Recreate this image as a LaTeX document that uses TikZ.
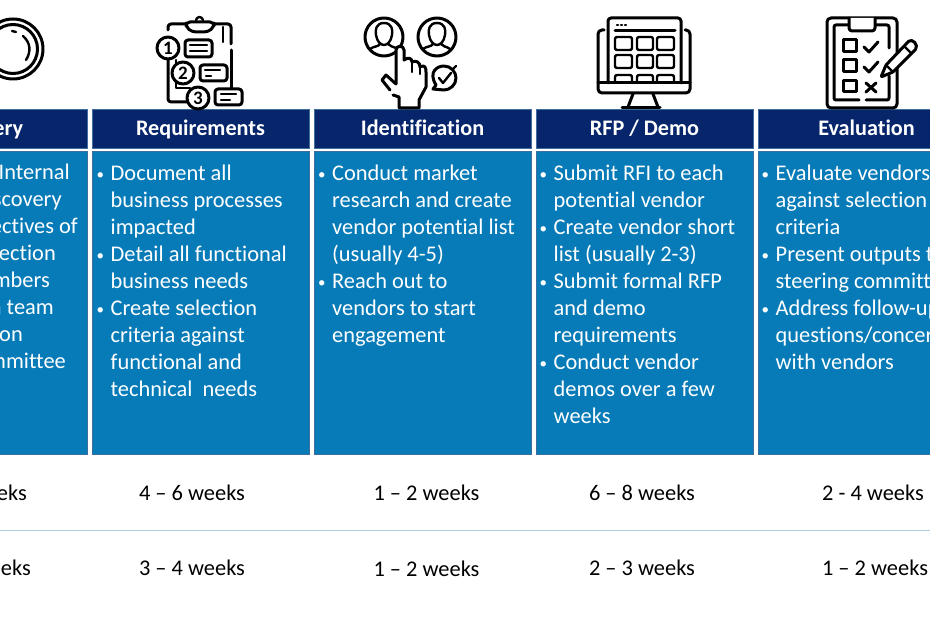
\documentclass[tikz,border=0pt]{standalone}
\usepackage{fontspec}
\setmainfont{Carlito}[Ligatures=CommonOff]
\definecolor{headblue}{HTML}{06256B}
\definecolor{bodyblue}{HTML}{077BB8}
\definecolor{edgeblue}{HTML}{3D6E9E}
\definecolor{rowline}{HTML}{ABCFDF}
\newcommand{\itm}{\llap{\raisebox{1.5pt}{\fontsize{15}{15}\selectfont\textbullet}\hspace{6.5pt}}}
\tikzset{
  headbox/.style={draw=edgeblue,fill=headblue,line width=0.8pt,minimum width=217pt,minimum height=39pt,inner sep=0pt,text height=17pt,text depth=2pt,text=white,font=\fontsize{22.2}{25}\selectfont\bfseries},
  bodybox/.style={draw=edgeblue,fill=bodyblue,line width=0.8pt,minimum width=217pt,minimum height=303pt,inner sep=0pt},
  bodytext/.style={text=white,align=left,inner sep=0pt,anchor=north west,font=\fontsize{22.4}{27}\selectfont},
  cuttext/.style={text=white,inner sep=0pt,anchor=base east,font=\fontsize{22.4}{27}\selectfont},
  timetext/.style={text=black,inner sep=0pt,font=\fontsize{22.4}{24}\selectfont},
  icon/.style={draw=black,line width=3pt,line join=round,line cap=round},
  thinicon/.style={icon,line width=2.4pt},
  digit/.style={inner sep=0pt,text=black,font=\fontsize{19}{19}\selectfont\bfseries}
}
\begin{document}
\begin{tikzpicture}[x=1pt,y=-1pt]
    \useasboundingbox (0,0) rectangle (930,620);
    \clip (0,0) rectangle (930,620);
    \node[headbox] (dischead) at (-21.5,128.5) {Discovery};
    \node[headbox] (reqhead) at (200.5,128.5) {Requirements};
    \node[headbox] (idhead) at (422.5,128.5) {Identification};
    \node[headbox] (rfphead) at (644.5,128.5) {RFP / Demo};
    \node[headbox] (evalhead) at (866.5,128.5) {Evaluation};
    \node[bodybox] (discbody) at (-21.5,302.5) {};
    \node[bodybox] (reqbody) at (200.5,302.5) {};
    \node[bodybox] (idbody) at (422.5,302.5) {};
    \node[bodybox] (rfpbody) at (644.5,302.5) {};
    \node[bodybox] (evalbody) at (866.5,302.5) {};
    \node[cuttext] (disc1) at (70,180) {Internal};
    \node[cuttext] (disc2) at (62,207) {discovery};
    \node[cuttext] (disc3) at (78,234) {objectives of};
    \node[cuttext] (disc4) at (56,261) {selection};
    \node[cuttext] (disc5) at (50,288) {members};
    \node[cuttext] (disc6) at (54,315) {selection team};
    \node[cuttext] (disc7) at (23,342) {selection};
    \node[cuttext] (disc8) at (66,369) {committee};
    \node[bodytext] (reqtext) at (110.5,165) {\itm Document all\\business processes\\impacted\\\itm Detail all functional\\business needs\\\itm Create selection\\criteria against\\functional and\\technical~~needs};
    \node[bodytext] (idtext) at (332,165) {\itm Conduct market\\research and create\\vendor potential list\\(usually 4-5)\\\itm Reach out to\\vendors to start\\engagement};
    \node[bodytext] (rfptext) at (553.5,165) {\itm Submit RFI to each\\potential vendor\\\itm Create vendor short\\list (usually 2-3)\\\itm Submit formal RFP\\and demo\\requirements\\\itm Conduct vendor\\demos over a few\\weeks};
    \node[bodytext] (evaltext) at (775.5,165) {\itm Evaluate vendors\\against selection\\criteria\\\itm Present outputs to\\steering committee\\\itm Address follow-up\\questions/concerns\\with vendors};
    \node[timetext,anchor=east] (disctime1) at (27,493) {weeks};
    \node[timetext] (reqtime1) at (192,493) {4 – 6 weeks};
    \node[timetext] (idtime1) at (426.5,493) {1 – 2 weeks};
    \node[timetext] (rfptime1) at (642,493) {6 – 8 weeks};
    \node[timetext] (evaltime1) at (873,493) {2 - 4 weeks};
    \draw[rowline,line width=0.9pt] (0,530) -- (930,530);
    \node[timetext,anchor=east] (disctime2) at (31,568) {weeks};
    \node[timetext] (reqtime2) at (192,568) {3 – 4 weeks};
    \node[timetext] (idtime2) at (426.5,569) {1 – 2 weeks};
    \node[timetext] (rfptime2) at (642,568) {2 – 3 weeks};
    \node[timetext] (evaltime2) at (875,568) {1 – 2 weeks};
    \draw[icon] (13,49) circle (30);
    \draw[icon] (13,49) circle (24.5);
    \draw[thinicon] (12,31) -- (16,32);
    \draw[thinicon] (23,36) .. controls (31,43) and (31,52) .. (26,60);
    \draw[icon,rounded corners=3pt] (168,30) -- (168,24) -- (231,24) -- (231,44);
    \draw[icon,rounded corners=3pt] (231,50) -- (231,88);
    \draw[icon,rounded corners=3pt] (168,60) -- (168,102) -- (188,102);
    \draw[thinicon] (176,60) -- (176,88) -- (190,88);
    \draw[thinicon] (223,27) -- (223,42);
    \draw[icon,rounded corners=4pt,fill=white] (186,22) -- (214,22) -- (214,27) -- (208,32) -- (192,32) -- (186,27) -- cycle;
    \draw[thinicon] (196,20) .. controls (197,16) and (202,16) .. (203,20);
    \draw[icon,fill=white] (168,48) circle (11);
    \node[digit] (numa) at (168,48) {1};
    \draw[icon,rounded corners=3pt,fill=white] (185,40) rectangle (212,57);
    \draw[thinicon] (190,45) -- (207,45);
    \draw[thinicon] (190,51) -- (207,51);
    \draw[icon,fill=white] (183,73) circle (11);
    \node[digit] (numb) at (183,73) {2};
    \draw[icon,rounded corners=3pt,fill=white] (200,65) rectangle (227,81);
    \draw[thinicon] (205,70) -- (220,70);
    \draw[thinicon] (206,76) -- (211,76);
    \draw[icon,fill=white] (198,98) circle (11);
    \node[digit] (numc) at (198,98) {3};
    \draw[icon,rounded corners=3pt,fill=white] (215,89) rectangle (242,105);
    \draw[thinicon] (221,94) -- (236,94);
    \draw[thinicon] (221,100) -- (230,100);
    \draw[icon] (384,37) circle (19);
    \draw[icon] (437,37) circle (19);
    \draw[thinicon] (384,23) .. controls (376,23) and (375,30) .. (376,35) .. controls (377,42) and (381,45) .. (384,45) .. controls (387,45) and (391,42) .. (392,35) .. controls (393,30) and (392,23) .. (384,23) -- cycle;
    \draw[thinicon] (370,49) .. controls (374,46) and (378,47) .. (380,44);
    \draw[thinicon] (388,44) .. controls (390,47) and (393,46) .. (396,48);
    \draw[thinicon] (437,23) .. controls (429,23) and (428,30) .. (429,35) .. controls (430,42) and (434,45) .. (437,45) .. controls (440,45) and (444,42) .. (445,35) .. controls (446,30) and (445,23) .. (437,23) -- cycle;
    \draw[thinicon] (423,49) .. controls (427,46) and (431,47) .. (433,44);
    \draw[thinicon] (441,44) .. controls (443,47) and (446,46) .. (450,49);
    \draw[icon,fill=white] (396,84) -- (396,50) .. controls (396,45) and (404,45) .. (404,50) -- (404,60) .. controls (408,57) and (412,58) .. (412,62) .. controls (416,60) and (420,62) .. (420,67) .. controls (425,64) and (426,68) .. (426,72) -- (426,87) -- (419,100) -- (419,108) -- (399,108) -- (399,97) -- (393,95);
    \draw[icon] (396,84) -- (386,75) -- (382,80) -- (390,90);
    \draw[thinicon] (412,62) -- (412,72);
    \draw[thinicon] (420,67) -- (420,74);
    \draw[icon] (433,89) -- (436,85) .. controls (428,72) and (437,66) .. (444,66) .. controls (451,66) and (456,72) .. (456,78) .. controls (456,85) and (450,90) .. (444,90) -- cycle;
    \draw[thinicon] (439,78) -- (443,83) -- (451,73);
    \draw[thinicon] (453,69) -- (456,66);
    \draw[icon,rounded corners=3pt] (608,83) -- (608,18) -- (681,18) -- (681,83);
    \draw[icon,rounded corners=4pt] (604,30) -- (598,30) -- (598,93) -- (690,93) -- (690,30) -- (685,30);
    \draw[icon] (598,83) -- (690,83);
    \draw[icon] (615,31) -- (675,31);
    \draw[thinicon,dash pattern=on 1pt off 3pt] (617,25) -- (628,25);
    \draw[thinicon,rounded corners=2pt] (615,37) rectangle (632,50);
    \draw[thinicon,rounded corners=2pt] (637,37) rectangle (653,50);
    \draw[thinicon,rounded corners=2pt] (657,37) rectangle (674,50);
    \draw[thinicon,rounded corners=2pt] (615,55) rectangle (632,68);
    \draw[thinicon,rounded corners=2pt] (637,55) rectangle (653,68);
    \draw[thinicon,rounded corners=2pt] (657,55) rectangle (674,68);
    \draw[thinicon,rounded corners=2pt] (615,83) -- (615,75) -- (632,75) -- (632,83);
    \draw[thinicon,rounded corners=2pt] (637,83) -- (637,75) -- (653,75) -- (653,83);
    \draw[thinicon,rounded corners=2pt] (657,83) -- (657,75) -- (674,75) -- (674,83);
    \draw[icon] (633,94) -- (628,107);
    \draw[icon] (653,94) -- (658,107);
    \draw[icon] (622,108) -- (660,108);
    \draw[icon,rounded corners=4pt] (827,18) rectangle (897,108);
    \draw[icon,rounded corners=2pt] (849,25) -- (834,25) -- (834,100) -- (859,100);
    \draw[icon,rounded corners=2pt] (875,25) -- (889,25) -- (889,48);
    \draw[icon,rounded corners=2pt] (889,76) -- (889,100) -- (866,100);
    \draw[icon,rounded corners=3pt,fill=white] (849,18) -- (849,31) -- (875,31) -- (875,18);
    \draw[icon] (843,40) rectangle (856,52);
    \draw[icon] (843,60) rectangle (856,72);
    \draw[icon] (843,81) rectangle (856,92);
    \draw[icon] (864,47) -- (869,52) -- (878,42);
    \draw[icon] (864,67) -- (869,72) -- (878,62);
    \draw[icon] (866,83) -- (876,92);
    \draw[icon] (876,83) -- (866,92);
    \draw[icon,fill=white,rounded corners=1pt] (881,77) -- (886,65) -- (908,42) .. controls (912,38) and (919,45) .. (915,50) -- (893,72) -- cycle;
    \draw[thinicon] (886,65) -- (893,72);
    \draw[thinicon] (904,46) -- (911,53);
\end{tikzpicture}
\end{document}
